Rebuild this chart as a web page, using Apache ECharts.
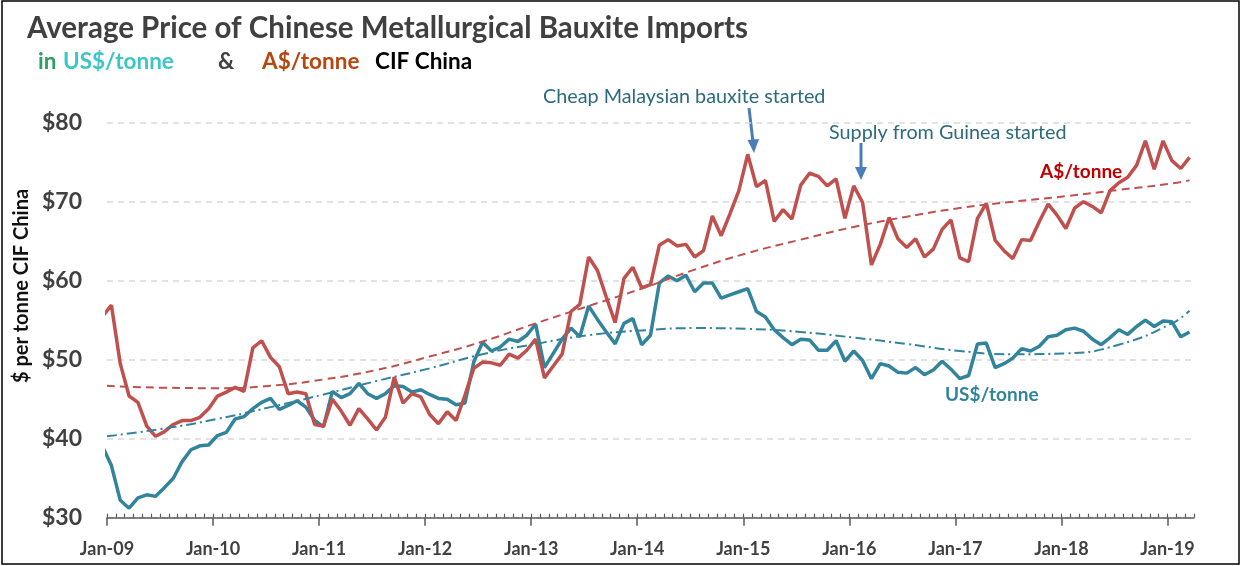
<!DOCTYPE html>
<html>
<head>
<meta charset="utf-8">
<script src="https://cdn.jsdelivr.net/npm/echarts@6/dist/echarts.min.js"></script>
<style>html,body{margin:0;padding:0;background:#fff}#c{width:1243px;height:566px}</style>
</head>
<body>
<div id="c"></div>
<script>
// ---------- DATA ----------
// Monthly categories, Dec-08 (partly outside the axis, clipped) to Mar-19
const monNames = ['Jan','Feb','Mar','Apr','May','Jun','Jul','Aug','Sep','Oct','Nov','Dec'];
const months = ['Dec-08'];
for (let y = 9; y <= 19; y++) {
  for (let m = 0; m < 12; m++) {
    if (y === 19 && m > 2) break;
    months.push(monNames[m] + '-' + String(y).padStart(2, '0'));
  }
}

// Average price, US$/tonne CIF China
const usd = [39.0,
  36.6,32.2,31.2,32.5,32.9,32.7,33.8,35.0,37.1,38.6,39.1,39.2,
  40.4,40.8,42.5,42.8,43.8,44.6,45.1,43.7,44.2,44.8,44.0,42.3,
  41.5,46.0,45.2,45.7,47.0,45.7,45.1,45.7,46.7,46.6,45.9,46.2,
  45.6,45.1,45.0,44.3,44.5,49.7,52.2,51.1,51.6,52.6,52.3,53.1,
  54.5,49.0,50.8,52.6,54.0,52.9,56.8,55.1,53.5,52.0,54.6,55.2,
  51.9,53.1,59.7,60.6,60.0,60.7,58.6,59.7,59.7,57.8,58.2,58.6,
  59.0,56.1,55.4,53.8,52.8,51.9,52.6,52.5,51.2,51.2,52.4,49.8,
  51.1,49.9,47.6,49.5,49.2,48.4,48.3,49.0,48.1,48.7,49.8,48.8,
  47.6,48.0,52.0,52.1,49.0,49.5,50.2,51.4,51.1,51.7,52.9,53.1,
  53.8,54.0,53.6,52.6,51.9,52.8,53.8,53.2,54.2,55.0,54.2,54.9,
  54.8,52.9,53.5];

// Average price, A$/tonne CIF China
const aud = [55.5,
  56.9,49.5,45.4,44.6,41.6,40.3,40.9,41.8,42.3,42.3,42.7,43.8,
  45.4,45.9,46.5,46.0,51.5,52.4,50.3,49.1,45.7,45.9,45.7,41.8,
  41.6,45.0,43.5,41.7,43.8,42.5,41.1,42.7,47.8,44.5,45.7,45.3,
  43.1,41.9,43.4,42.3,45.5,48.9,49.7,49.6,49.3,50.7,50.2,51.2,
  52.6,47.7,49.2,50.7,56.1,57.0,63.0,61.3,57.9,54.7,60.3,61.7,
  59.1,59.5,64.5,65.2,64.4,64.6,63.0,63.8,68.2,65.7,68.5,71.4,
  76.0,71.9,72.7,67.5,69.0,67.8,72.1,73.6,73.2,72.0,72.9,67.9,
  72.0,69.9,62.0,64.6,68.0,65.3,64.2,65.3,63.0,64.0,66.5,67.7,
  62.9,62.4,67.9,69.8,65.1,63.8,62.8,65.2,65.1,67.5,69.7,68.3,
  66.6,69.2,70.0,69.4,68.6,71.4,72.4,73.1,74.6,77.7,74.1,77.7,
  75.2,74.2,75.6];

// Trend lines (month offset from Jan-09)
const trendMonth = [-0.5,6,12,18,24,30,36,42,48,54,60,66,72,78,84,90,96,102,108,114,120,122];
const audTrend = [46.7,46.45,46.4,46.7,47.5,48.7,50.4,52.3,54.6,56.8,59.0,61.4,63.5,65.2,66.8,68.1,69.2,70.0,70.7,71.5,72.3,72.7];
const usdTrend = [40.3,41.3,42.5,44.0,45.6,47.3,48.9,50.7,52.0,53.1,53.7,54.0,53.9,53.5,52.8,52.0,51.1,50.7,50.8,51.9,54.6,56.2];

// Axis tick labels
const xTickLabels = ['Jan-09','Jan-10','Jan-11','Jan-12','Jan-13','Jan-14','Jan-15','Jan-16','Jan-17','Jan-18','Jan-19'];
const yTicks = [30,40,50,60,70,80];

// ---------- CHART ----------
const FONT = 'Lato, "Open Sans", "DejaVu Sans", sans-serif';
const RED = '#C0504D', TEAL = '#31849B';
const axisMonths = 123;
const yearTicks = xTickLabels.map((_, k) => k * 12);
const monthTicks = Array.from({length: axisMonths + 1}, (_, k) => k);
const toXY = arr => arr.map((v, k) => [k - 0.5, v]);        // month centred between ticks
const trendXY = arr => arr.map((v, k) => [trendMonth[k] + 0.5, v]);

const chart = echarts.init(document.getElementById('c'), null, {renderer: 'canvas'});
chart.setOption({
  animation: false,
  backgroundColor: '#fff',
  grid: {left: 107, right: 49, top: 122.7, bottom: 48.3},
  xAxis: [{
    type: 'value', position: 'bottom', min: 0, max: axisMonths,
    axisLine: {lineStyle: {color: '#595959', width: 1.5}},
    splitLine: {show: false},
    axisTick: {customValues: yearTicks, length: 8, lineStyle: {color: '#595959', width: 1.5}},
    axisLabel: {customValues: yearTicks, formatter: v => xTickLabels[Math.round(v / 12)],
      fontSize: 18, fontWeight: 'bold', color: '#404040', fontFamily: FONT, margin: 22}
  }, {
    type: 'value', position: 'bottom', min: 0, max: axisMonths,
    axisLine: {show: false}, splitLine: {show: false}, axisLabel: {show: false},
    axisTick: {customValues: monthTicks, inside: true, length: 4, lineStyle: {color: '#595959', width: 1.2}}
  }],
  yAxis: {
    type: 'value', min: yTicks[0], max: yTicks[yTicks.length - 1], interval: 10,
    axisLine: {show: false}, axisTick: {show: false},
    splitLine: {lineStyle: {type: [6, 5], color: '#D9D9D9', width: 1.5}},
    axisLabel: {formatter: v => '$' + v, fontSize: 23, fontWeight: 'bold', color: '#404040', fontFamily: FONT, margin: 25}
  },
  series: [
    {name: 'US$/tonne', type: 'line', xAxisIndex: 0, data: toXY(usd), showSymbol: false, clip: true,
      lineStyle: {color: TEAL, width: 3.5}, z: 3},
    {name: 'A$/tonne', type: 'line', xAxisIndex: 0, data: toXY(aud), showSymbol: false, clip: true,
      lineStyle: {color: RED, width: 3.5}, z: 4},
    {name: 'A$ trend', type: 'line', xAxisIndex: 0, data: trendXY(audTrend), showSymbol: false, smooth: true, clip: true,
      lineStyle: {color: RED, width: 2, type: [8, 5]}, z: 5},
    {name: 'US$ trend', type: 'line', xAxisIndex: 0, data: trendXY(usdTrend), showSymbol: false, smooth: true, clip: true,
      lineStyle: {color: TEAL, width: 2, type: [10, 4, 2, 4]}, z: 5}
  ],
  graphic: [
    {type: 'rect', silent: true, shape: {x: 2, y: 1, width: 1237, height: 563},
      style: {fill: null, stroke: '#000', lineWidth: 1.5}},
    {type: 'text', x: 27, y: 28, style: {text: 'Average Price of Chinese Metallurgical Bauxite Imports',
      fontSize: 29.5, fontWeight: 'bold', fontFamily: FONT, fill: '#404040', verticalAlign: 'middle'}},
    {type: 'text', x: 38, y: 62, style: {text: 'in', fontSize: 22.5, fontWeight: 'bold', fontFamily: FONT, fill: '#2E9E62', verticalAlign: 'middle'}},
    {type: 'text', x: 63, y: 62, style: {text: 'US$/tonne', fontSize: 22.5, fontWeight: 'bold', fontFamily: FONT, fill: '#3CC6C8', verticalAlign: 'middle'}},
    {type: 'text', x: 218, y: 62, style: {text: '&', fontSize: 22.5, fontWeight: 'bold', fontFamily: FONT, fill: '#404040', verticalAlign: 'middle'}},
    {type: 'text', x: 262, y: 62, style: {text: 'A$/tonne', fontSize: 22.5, fontWeight: 'bold', fontFamily: FONT, fill: '#B5470F', verticalAlign: 'middle'}},
    {type: 'text', x: 375, y: 62, style: {text: 'CIF China', fontSize: 22.5, fontWeight: 'bold', fontFamily: FONT, fill: '#000', verticalAlign: 'middle'}},
    {type: 'text', x: 22, y: 286, rotation: Math.PI / 2, style: {text: '$ per tonne CIF China', fontSize: 20, fontWeight: 'bold',
      fontFamily: FONT, fill: '#111', align: 'center', verticalAlign: 'middle'}},
    {type: 'text', x: 543, y: 97, style: {text: 'Cheap Malaysian bauxite started', fontSize: 19.8, fontFamily: FONT, fill: '#2B6B7B', verticalAlign: 'middle'}},
    {type: 'text', x: 829, y: 133, style: {text: 'Supply from Guinea started', fontSize: 19.8, fontFamily: FONT, fill: '#2B6B7B', verticalAlign: 'middle'}},
    {type: 'text', x: 1040, y: 172, style: {text: 'A$/tonne', fontSize: 19, fontWeight: 'bold', fontFamily: FONT, fill: '#C00000', verticalAlign: 'middle'}},
    {type: 'text', x: 945, y: 395, style: {text: 'US$/tonne', fontSize: 19, fontWeight: 'bold', fontFamily: FONT, fill: TEAL, verticalAlign: 'middle'}},
    {type: 'line', silent: true, shape: {x1: 749, y1: 108, x2: 753, y2: 142}, style: {stroke: '#4A7EBB', lineWidth: 3}},
    {type: 'polygon', silent: true, shape: {points: [[754, 153], [747.5, 140], [759, 139]]}, style: {fill: '#4A7EBB'}},
    {type: 'line', silent: true, shape: {x1: 861, y1: 143, x2: 861, y2: 169}, style: {stroke: '#4A7EBB', lineWidth: 3}},
    {type: 'polygon', silent: true, shape: {points: [[861, 180], [855, 167], [867, 167]]}, style: {fill: '#4A7EBB'}}
  ]
});
</script>
</body>
</html>
